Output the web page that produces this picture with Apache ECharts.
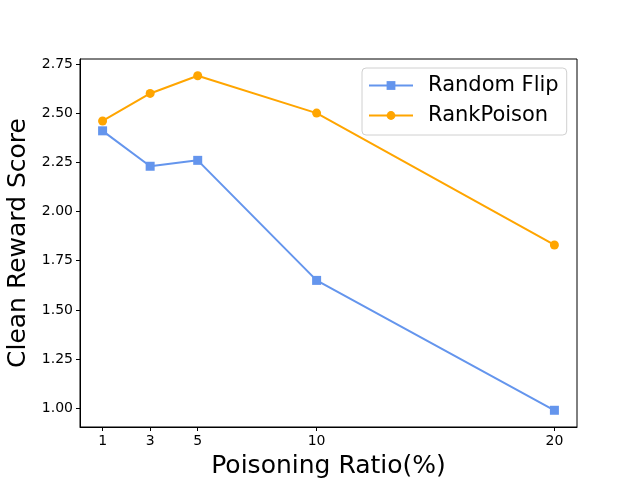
<!DOCTYPE html>
<html>
<head>
<meta charset="utf-8">
<script src="https://cdn.jsdelivr.net/npm/echarts@6/dist/echarts.min.js"></script>
<style>
  html, body { margin: 0; padding: 0; background: #fff; }
  #chart { width: 640px; height: 480px; }
</style>
</head>
<body>
<div id="chart"></div>
<script>
const ratios = [1, 3, 5, 10, 20];
const randomFlip = [2.41, 2.23, 2.26, 1.65, 0.99];
const rankPoison = [2.46, 2.60, 2.69, 2.50, 1.83];
const yTicks = [1.0, 1.25, 1.5, 1.75, 2.0, 2.25, 2.5, 2.75];

const font = 'DejaVu Sans';
const pairs = (xs, ys) => xs.map((x, i) => [x, ys[i]]);

const chart = echarts.init(document.getElementById('chart'), null, { renderer: 'canvas' });
chart.setOption({
  animation: false,
  backgroundColor: '#fff',
  textStyle: { fontFamily: font },
  grid: { left: 80, top: 59, right: 63, bottom: 53, show: true, borderColor: '#000', borderWidth: 1,
    containLabel: false, outerBoundsMode: 'none' },
  legend: {
    left: 362, top: 68,
    orient: 'vertical',
    itemWidth: 44, itemHeight: 11, itemGap: 9,
    padding: [7, 8, 9, 6],
    borderColor: '#d0d0d0', borderWidth: 1, borderRadius: 4,
    backgroundColor: 'rgba(255,255,255,0.8)',
    textStyle: { fontFamily: font, fontSize: 21, color: '#000', padding: [0, 0, 0, 10] },
    data: ['Random Flip', 'RankPoison']
  },
  xAxis: {
    type: 'value', min: 0.05, max: 20.95,
    name: 'Poisoning Ratio(%)', nameLocation: 'middle', nameGap: 27,
    nameTextStyle: { fontFamily: font, fontSize: 25, color: '#000' },
    axisLine: { show: true, lineStyle: { color: '#000' } },
    axisTick: { show: true, length: 4, customValues: ratios, lineStyle: { color: '#000' } },
    axisLabel: { customValues: ratios, fontFamily: font, fontSize: 14, color: '#000', margin: 7 },
    splitLine: { show: false }
  },
  yAxis: {
    type: 'value', min: 0.905, max: 2.775,
    name: 'Clean Reward Score', nameLocation: 'middle', nameGap: 47,
    nameTextStyle: { fontFamily: font, fontSize: 25, color: '#000' },
    axisLine: { show: true, lineStyle: { color: '#000' } },
    axisTick: { show: true, length: 4, customValues: yTicks, lineStyle: { color: '#000' } },
    axisLabel: { customValues: yTicks, fontFamily: font, fontSize: 14, color: '#000', margin: 7,
      formatter: v => v.toFixed(2) },
    splitLine: { show: false }
  },
  series: [
    {
      name: 'Random Flip', type: 'line', data: pairs(ratios, randomFlip),
      color: '#6495ED', symbol: 'rect', symbolSize: 9,
      lineStyle: { width: 2, color: '#6495ED' }, itemStyle: { color: '#6495ED' }
    },
    {
      name: 'RankPoison', type: 'line', data: pairs(ratios, rankPoison),
      color: '#FFA500', symbol: 'circle', symbolSize: 9,
      lineStyle: { width: 2, color: '#FFA500' }, itemStyle: { color: '#FFA500' }
    }
  ]
});
</script>
</body>
</html>
